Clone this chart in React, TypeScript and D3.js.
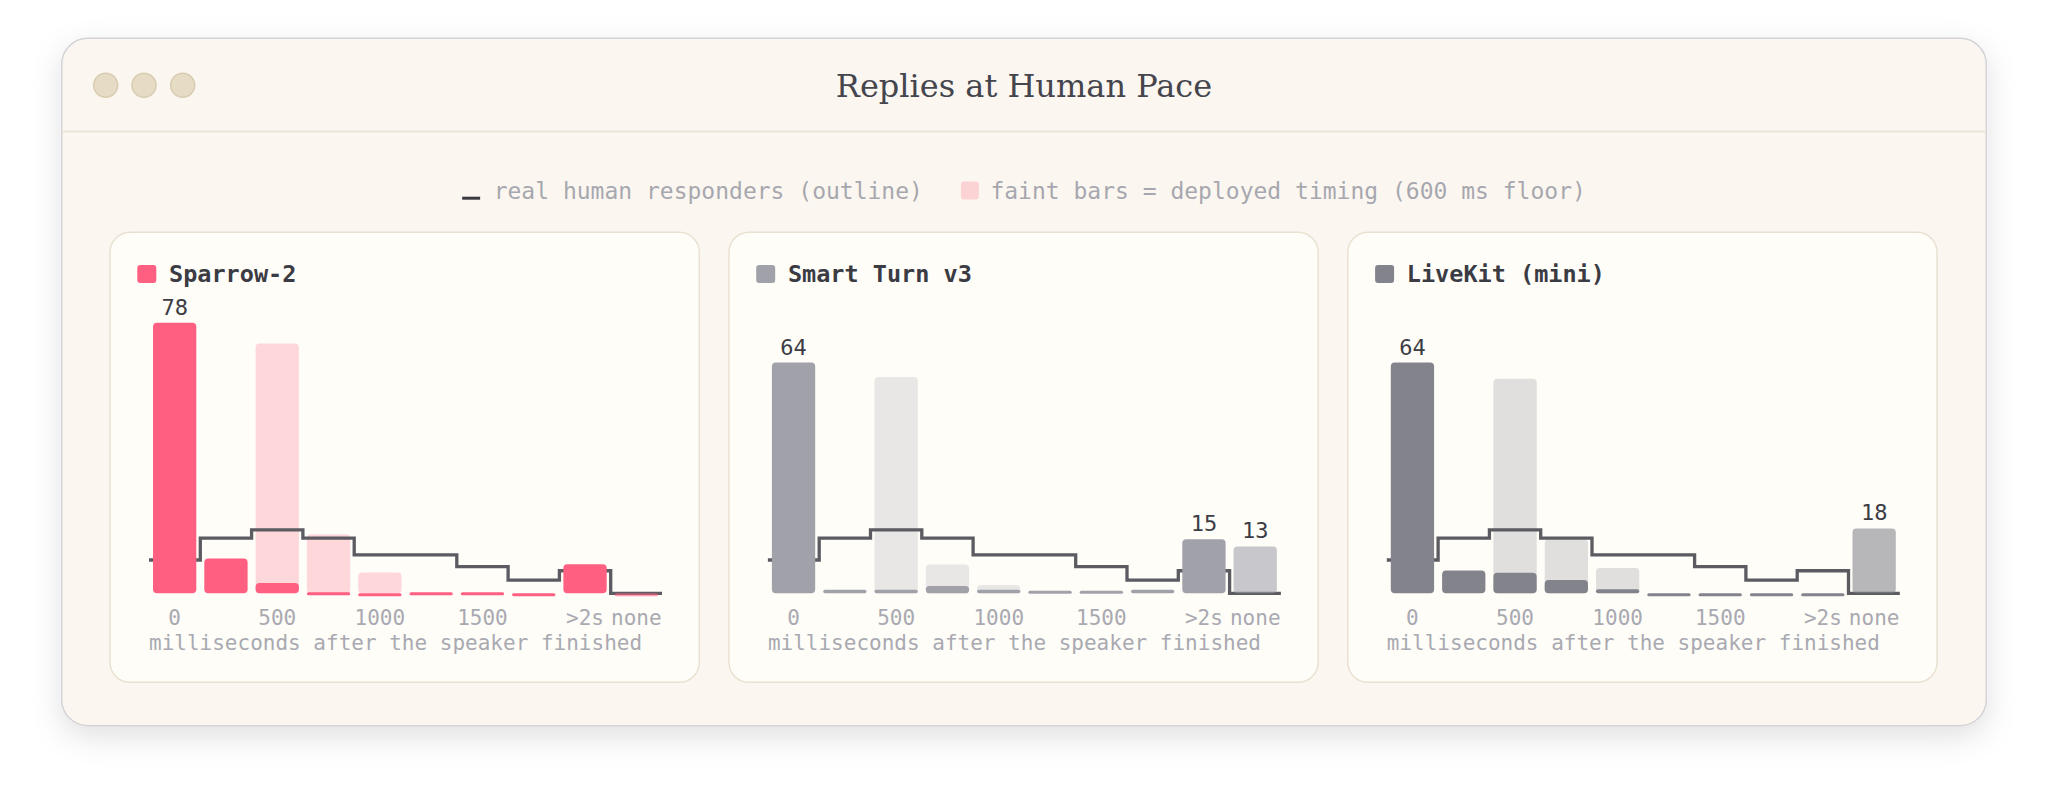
import React, { useRef, useEffect } from 'react';
import * as d3 from 'd3';

// response-time bins, 250 ms wide
const bins = ['0', '250', '500', '750', '1000', '1250', '1500', '1750', '>2s', 'none'];
const tickLabels = ['0', '500', '1000', '1500', '>2s', 'none'];

// share of real human responders per bin (%)
const humanShare = [9.6, 15.9, 18.3, 15.9, 11.1, 11.1, 7.7, 3.8, 6.5, 0];

const modelNames = ['Sparrow-2', 'Smart Turn v3', 'LiveKit (mini)'];
const modelColors = ['#ff5f80', '#a1a1aa', '#83838c'];

// measured replies per bin (%)
const sparrowMeasured = [78, 10, 3, 0.3, 0, 0.3, 0.3, 0, 8.4, 0];
const smartTurnMeasured = [64, 1, 1, 2, 1, 0.7, 0.7, 1, 15, 13];
const liveKitMeasured = [64, 6.3, 5.7, 3.7, 1.1, 0, 0, 0, 0, 18];

// deployed timing with the 600 ms floor (%)
const sparrowDeployed = [0, 0, 72, 17, 6, 0, 0, 0, 0, 0];
const smartTurnDeployed = [0, 0, 60, 8, 2.3, 0, 0, 0, 0, 0];
const liveKitDeployed = [0, 0, 59.5, 15, 7, 0, 0, 0, 0, 0];

const yCeiling = [80, 77, 77];

const measured = [sparrowMeasured, smartTurnMeasured, liveKitMeasured];
const deployed = [sparrowDeployed, smartTurnDeployed, liveKitDeployed];

const W = 2048;
const H = 812;
const MONO = "'DejaVu Sans Mono', monospace";

const App: React.FC = () => {
  const svgRef = useRef<SVGSVGElement | null>(null);

  useEffect(() => {
    if (!svgRef.current) return;
    const svg = d3.select(svgRef.current);
    svg.selectAll('*').remove();

    const defs = svg.append('defs');
    const shadow = defs.append('filter')
      .attr('id', 'winShadow')
      .attr('x', '-10%').attr('y', '-15%')
      .attr('width', '120%').attr('height', '140%');
    shadow.append('feDropShadow')
      .attr('dx', 0).attr('dy', 10)
      .attr('stdDeviation', 15)
      .attr('flood-color', '#000')
      .attr('flood-opacity', 0.12);

    svg.append('rect').attr('width', W).attr('height', H).attr('fill', '#ffffff');

    // window frame
    const win = { x: 61.7, y: 38.3, w: 1924.6, h: 687.4 };
    svg.append('rect')
      .attr('x', win.x).attr('y', win.y)
      .attr('width', win.w).attr('height', win.h)
      .attr('rx', 26)
      .attr('fill', '#fbf7f0')
      .attr('stroke', '#d3d2d6')
      .attr('stroke-width', 1.5)
      .attr('filter', 'url(#winShadow)');

    svg.append('line')
      .attr('x1', win.x + 1).attr('x2', win.x + win.w - 1)
      .attr('y1', 131.5).attr('y2', 131.5)
      .attr('stroke', '#ece5d7')
      .attr('stroke-width', 2);

    [105.7, 144, 182.7].forEach(cx => {
      svg.append('circle')
        .attr('cx', cx).attr('cy', 85.3).attr('r', 12)
        .attr('fill', '#e6dcc6')
        .attr('stroke', '#d8ccb0')
        .attr('stroke-width', 1.5);
    });

    svg.append('text')
      .attr('x', W / 2).attr('y', 97)
      .attr('text-anchor', 'middle')
      .attr('font-family', "'DejaVu Serif', serif")
      .attr('font-size', 32)
      .attr('fill', '#45454d')
      .text('Replies at Human Pace');

    // top legend, centred
    const legend = svg.append('g');
    const dash = legend.append('rect').attr('width', 18).attr('height', 3).attr('y', 196.7).attr('fill', '#3a3a40');
    const t1 = legend.append('text')
      .attr('y', 198.5)
      .attr('font-family', MONO).attr('font-size', 23)
      .attr('fill', '#a7a7af')
      .text('real human responders (outline)');
    const sq = legend.append('rect')
      .attr('width', 18).attr('height', 18).attr('y', 181.5).attr('rx', 3)
      .attr('fill', modelColors[0]).attr('fill-opacity', 0.24);
    const t2 = legend.append('text')
      .attr('y', 198.5)
      .attr('font-family', MONO).attr('font-size', 23)
      .attr('fill', '#a7a7af')
      .text('faint bars = deployed timing (600 ms floor)');
    const w1 = (t1.node() as SVGTextElement).getComputedTextLength();
    const w2 = (t2.node() as SVGTextElement).getComputedTextLength();
    const total = 18 + 13.5 + w1 + 38 + 18 + 11.5 + w2;
    let lx = W / 2 - total / 2;
    dash.attr('x', lx); lx += 18 + 13.5;
    t1.attr('x', lx); lx += w1 + 38;
    sq.attr('x', lx); lx += 18 + 11.5;
    t2.attr('x', lx);

    // panels
    const panelW = 589.3;
    const panelH = 450;
    const panelTop = 232.3;
    const baseY = 593.3;
    const plotH = 277.6;

    const outlineY = d3.scaleLinear().domain([0, 80]).range([baseY, baseY - plotH]);

    modelNames.forEach((name, i) => {
      const px = 110 + i * (panelW + 29.6);
      const g = svg.append('g');

      g.append('rect')
        .attr('x', px).attr('y', panelTop)
        .attr('width', panelW).attr('height', panelH)
        .attr('rx', 20)
        .attr('fill', '#fefdf8')
        .attr('stroke', '#e9e1d0')
        .attr('stroke-width', 1.5);

      g.append('rect')
        .attr('x', px + 27.3).attr('y', panelTop + 32.7)
        .attr('width', 19).attr('height', 18).attr('rx', 3)
        .attr('fill', modelColors[i]);
      g.append('text')
        .attr('x', px + 59).attr('y', panelTop + 49.4)
        .attr('font-family', MONO).attr('font-size', 23.5)
        .attr('font-weight', 600)
        .attr('fill', '#3b3b43')
        .text(name);

      const x = d3.scaleBand<string>()
        .domain(bins)
        .range([px + 39, px + 552])
        .paddingInner(0.156)
        .paddingOuter(0.078);

      const y = d3.scaleLinear().domain([0, yCeiling[i]]).range([baseY, baseY - plotH]);

      const bw = x.bandwidth();
      const gap = x.step() - bw;

      // faint deployed bars
      g.append('g').selectAll('rect')
        .data(deployed[i].map((v, k) => ({ v, k })).filter(d => d.v > 0))
        .join('rect')
        .attr('x', d => x(bins[d.k])!)
        .attr('y', d => y(d.v))
        .attr('width', bw)
        .attr('height', d => y(0) - y(d.v))
        .attr('rx', 4)
        .attr('fill', modelColors[i])
        .attr('fill-opacity', 0.24);

      // human outline
      const pts: [number, number][] = [];
      humanShare.forEach((v, k) => {
        const left = x(bins[k])! - gap / 2;
        pts.push([left, outlineY(v)], [left + x.step(), outlineY(v)]);
      });
      g.append('path')
        .datum(pts)
        .attr('d', d3.line())
        .attr('fill', 'none')
        .attr('stroke', '#5b5b61')
        .attr('stroke-width', 3.3)
        .attr('stroke-linejoin', 'miter');

      // measured bars
      const bars = measured[i].map((v, k) => ({ v, k }));
      g.append('g').selectAll('rect')
        .data(bars)
        .join('rect')
        .attr('x', d => x(bins[d.k])!)
        .attr('y', d => y(d.v))
        .attr('width', bw)
        .attr('height', d => Math.max(y(0) - y(d.v), 3))
        .attr('rx', d => Math.min(4, Math.max(y(0) - y(d.v), 3) / 2))
        .attr('fill', modelColors[i])
        .attr('fill-opacity', d => (bins[d.k] === 'none' ? 0.58 : 1));

      g.append('g').selectAll('text')
        .data(bars.filter(d => d.v >= 12))
        .join('text')
        .attr('x', d => x(bins[d.k])! + bw / 2)
        .attr('y', d => y(d.v) - 8)
        .attr('text-anchor', 'middle')
        .attr('font-family', MONO).attr('font-size', 22)
        .attr('fill', '#3c3c44')
        .text(d => String(Math.round(d.v)));

      // x axis labels
      const axis = g.append('g')
        .attr('transform', `translate(0,${baseY + 10})`)
        .call(d3.axisBottom(x).tickValues(tickLabels).tickSize(0).tickPadding(0));
      axis.select('.domain').remove();
      axis.selectAll('text')
        .attr('dy', null)
        .attr('y', 21.7)
        .attr('font-family', MONO)
        .attr('font-size', 21)
        .attr('fill', '#a9a9b1');

      g.append('text')
        .attr('x', px + 39).attr('y', 650)
        .attr('font-family', MONO).attr('font-size', 21)
        .attr('fill', '#a9a9b1')
        .text('milliseconds after the speaker finished');
    });
  }, []);

  return (
    <svg
      ref={svgRef}
      width={W}
      height={H}
      style={{ position: 'absolute', left: 0, top: 0, display: 'block' }}
    />
  );
};

export default App;
